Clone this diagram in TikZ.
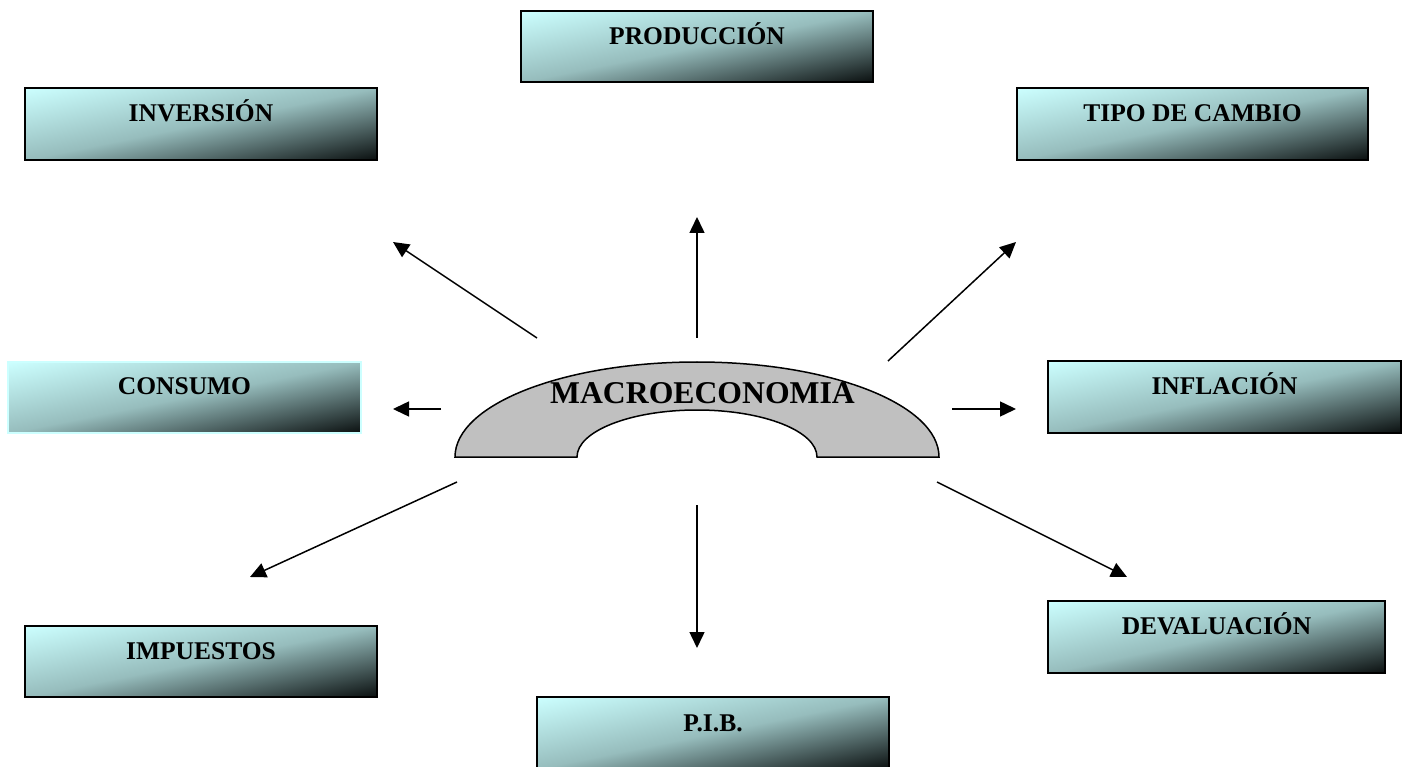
\documentclass[tikz,border=0pt]{standalone}
\usepackage{fontspec}
\setmainfont{Liberation Serif}
\usetikzlibrary{arrows.meta}

\definecolor{boxlight}{HTML}{CCFFFF}
\definecolor{archfill}{HTML}{C0C0C0}

% diagonal fill: light turquoise at the top left corner, almost black at the bottom right
\pgfdeclarefunctionalshading{diagbox}{\pgfpoint{0bp}{0bp}}{\pgfpoint{100bp}{100bp}}{}{
  75 exch sub exch 25 sub add 100 div
  dup 0 lt {pop 0} if
  dup 1 gt {pop 1} if
  dup 0.5 lt
  { 2 mul dup -0.21 mul 0.8 add exch -0.26 mul 1 add dup }
  { 2 mul 1 sub dup -0.55 mul 0.59 add exch -0.68 mul 0.74 add dup }
  ifelse
}

\tikzset{
  topicbox/.style={draw=black, line width=1.5pt, inner sep=0pt,
    shading=diagbox, minimum width=352, minimum height=72},
  topiclabel/.style={anchor=base, inner sep=0pt,
    font=\bfseries\fontsize{25.5}{30}\selectfont},
  link/.style={line width=1.5pt, -{Triangle[length=16pt,width=15pt]}},
}

\begin{document}
\begin{tikzpicture}[x=1pt, y=-1pt]
  \useasboundingbox (0,0) rectangle (1406,767);
  \fill[white] (0,0) rectangle (1406,767);
  \clip (0,0) rectangle (1406,767);

  % topic boxes around the centre
  \node[topicbox, minimum height=71] (prod)  at (697,46.5)   {};
  \node[topicbox] (inv)   at (201,124)    {};
  \node[topicbox, minimum width=351] (tipo)  at (1192.5,124) {};
  \node[topicbox, draw=boxlight, line width=2pt, minimum width=353, minimum height=71] (cons) at (184.5,397.5) {};
  \node[topicbox, minimum width=353] (infl)  at (1224.5,397) {};
  \node[topicbox, minimum height=71] (imp)   at (201,661.5)  {};
  \node[topicbox, minimum width=337] (deval) at (1216.5,637) {};
  \node[topicbox] (pib)   at (713,733)    {};

  % box captions, set near the top edge of each box
  \node[topiclabel] (prodt)  at ([yshift=-34pt]prod.north)  {PRODUCCIÓN};
  \node[topiclabel] (invt)   at ([yshift=-34pt]inv.north)   {INVERSIÓN};
  \node[topiclabel] (tipot)  at ([yshift=-34pt]tipo.north)  {TIPO DE CAMBIO};
  \node[topiclabel] (const)  at ([yshift=-34pt]cons.north)  {CONSUMO};
  \node[topiclabel] (inflt)  at ([yshift=-34pt]infl.north)  {INFLACIÓN};
  \node[topiclabel] (impt)   at ([yshift=-34pt]imp.north)   {IMPUESTOS};
  \node[topiclabel] (devalt) at ([yshift=-34pt]deval.north) {DEVALUACIÓN};
  \node[topiclabel] (pibt)   at ([yshift=-35pt]pib.north)   {P.I.B.};

  % central block arc
  \draw[fill=archfill, line width=1.5pt]
    (455,457) arc[start angle=180, end angle=360, x radius=242, y radius=95]
    -- (817,457)
    arc[start angle=360, end angle=180, x radius=120, y radius=47]
    -- cycle;
  \node[anchor=base, inner sep=0pt, font=\bfseries\fontsize{31.7}{36}\selectfont]
    (macro) at (702.5,403) {MACROECONOMIA};

  % arrow tails and tips
  \coordinate (a1) at (537,338);  \coordinate (b1) at (393,242);
  \coordinate (a2) at (697,338);  \coordinate (b2) at (697,217);
  \coordinate (a3) at (888,361);  \coordinate (b3) at (1016,242);
  \coordinate (a4) at (441,409);  \coordinate (b4) at (393,409);
  \coordinate (a5) at (952,409);  \coordinate (b5) at (1016,409);
  \coordinate (a6) at (457,482);  \coordinate (b6) at (250,577);
  \coordinate (a7) at (697,505);  \coordinate (b7) at (697,648);
  \coordinate (a8) at (937,482);  \coordinate (b8) at (1127,577);

  \draw[link] (a1) -- (b1);
  \draw[link] (a2) -- (b2);
  \draw[link] (a3) -- (b3);
  \draw[link] (a4) -- (b4);
  \draw[link] (a5) -- (b5);
  \draw[link] (a6) -- (b6);
  \draw[link] (a7) -- (b7);
  \draw[link] (a8) -- (b8);
\end{tikzpicture}
\end{document}
